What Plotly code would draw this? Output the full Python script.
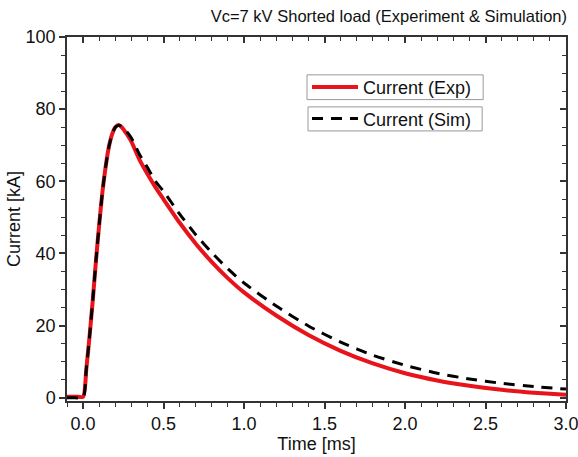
import plotly.graph_objects as go

# Experiment (red, solid)
t_exp = [-0.1, -0.05, 0.0, 0.02, 0.04, 0.06, 0.08, 0.10, 0.12, 0.14, 0.16, 0.18, 0.20, 0.22, 0.24,
         0.27, 0.30, 0.35, 0.40, 0.45, 0.50, 0.60, 0.70, 0.80, 0.90, 1.00, 1.20, 1.40, 1.60, 1.80,
         2.00, 2.20, 2.40, 2.60, 2.80, 3.00]
i_exp = [0.3, 0.3, 0.3, 8, 17, 27, 38, 48, 57, 64, 69.5, 73, 75, 75.6, 75.0,
         73.2, 71, 66, 62, 58.3, 55, 48.5, 42.7, 37.6, 33.1, 29.2, 22.8, 17.4, 13.0, 9.5,
         6.8, 4.8, 3.3, 2.2, 1.4, 0.8]

# Simulation (black, dashed)
t_sim = [-0.1, -0.05, 0.0, 0.02, 0.04, 0.06, 0.08, 0.10, 0.12, 0.14, 0.16, 0.18, 0.20, 0.22, 0.24,
         0.27, 0.30, 0.35, 0.40, 0.45, 0.50, 0.60, 0.70, 0.80, 0.90, 1.00, 1.20, 1.40, 1.60, 1.80,
         2.00, 2.20, 2.40, 2.60, 2.80, 3.00]
i_sim = [0.0, 0.0, 0.0, 8, 17, 27, 38, 48, 57, 64, 69.5, 73, 75, 75.5, 75.2,
         73.8, 72, 67.5, 63.8, 60, 57.2, 50.9, 45.2, 40.2, 35.7, 31.8, 25.4, 19.9, 15.4, 11.8,
         9.0, 6.8, 5.2, 4.0, 3.1, 2.4]

x_ticks = [0.0, 0.5, 1.0, 1.5, 2.0, 2.5, 3.0]
x_ticklabels = ["0.0", "0.5", "1.0", "1.5", "2.0", "2.5", "3.0"]
y_ticks = [0, 20, 40, 60, 80, 100]

FONT = "Liberation Sans, Arial, sans-serif"
AX = "#333333"

fig = go.Figure()
fig.add_trace(go.Scatter(x=t_exp, y=i_exp, mode="lines", name="Current (Exp)",
                         line=dict(color="#e8141c", width=4, shape="spline", smoothing=0.6),
                         legend="legend"))
fig.add_trace(go.Scatter(x=t_sim, y=i_sim, mode="lines", name="Current (Sim)",
                         line=dict(color="black", width=3, dash="11px,8px", shape="spline", smoothing=0.6),
                         legend="legend2"))

xr = [-0.1, 3.0]
yr = [-0.9, 100]

common_x = dict(range=xr, tickvals=x_ticks, ticklen=6, tickwidth=1.5, tickcolor=AX,
                showline=True, linecolor=AX, linewidth=1.5, showgrid=False, zeroline=False,
                automargin=False)
common_y = dict(range=yr, tickvals=y_ticks, ticklen=6, tickwidth=1.5, tickcolor=AX,
                showline=True, linecolor=AX, linewidth=1.5, showgrid=False, zeroline=False,
                automargin=False)

# legend frames (two separate boxes, as in the original)
box_style = dict(type="rect", xref="paper", yref="paper", line=dict(color="#999", width=1),
                 fillcolor="white", layer="above")
shapes = [
    dict(**box_style, x0=0.481, x1=0.834, y0=0.828, y1=0.896),
    dict(**box_style, x0=0.483, x1=0.832, y0=0.742, y1=0.808),
]

fig.update_layout(
    width=578, height=457,
    margin=dict(l=67, r=12, t=37, b=56, autoexpand=False),
    paper_bgcolor="white", plot_bgcolor="white",
    font=dict(family=FONT, size=18, color="#111"),
    title=dict(text="Vc=7 kV Shorted load (Experiment & Simulation)", x=0.981, xanchor="right",
               xref="container", y=0.965, yanchor="middle", yref="container",
               font=dict(size=16.5, family=FONT, color="#111")),
    xaxis=dict(**common_x, ticktext=x_ticklabels, ticks="outside", ticklabeloverflow="allow",
               minor=dict(dtick=0.1, ticks="outside", ticklen=4, tickcolor=AX, tickwidth=1.2, showgrid=False),
               title=dict(text="Time [ms]", standoff=0, font=dict(size=18)), tickfont=dict(size=18)),
    yaxis=dict(**common_y, ticks="outside", ticklabeloverflow="allow",
               minor=dict(dtick=5, tick0=0, ticks="outside", ticklen=4, tickcolor=AX, tickwidth=1.2, showgrid=False),
               title=dict(text="Current [kA]", standoff=0, font=dict(size=18)), tickfont=dict(size=18)),
    xaxis2=dict(**common_x, overlaying="x", side="top", anchor="y", ticks="inside",
                showticklabels=False,
                minor=dict(dtick=0.1, ticks="inside", ticklen=4, tickcolor=AX, tickwidth=1.2, showgrid=False)),
    yaxis2=dict(**common_y, overlaying="y", side="right", anchor="x", ticks="inside",
                showticklabels=False,
                minor=dict(dtick=5, tick0=0, ticks="inside", ticklen=4, tickcolor=AX, tickwidth=1.2, showgrid=False)),
    legend=dict(x=0.481, y=0.862, xanchor="left", yanchor="middle", bgcolor="rgba(0,0,0,0)",
                borderwidth=0, font=dict(size=18, family=FONT), itemwidth=46),
    legend2=dict(x=0.481, y=0.775, xanchor="left", yanchor="middle", bgcolor="rgba(0,0,0,0)",
                 borderwidth=0, font=dict(size=18, family=FONT), itemwidth=46),
    showlegend=True,
    shapes=shapes,
)
# empty trace so the mirrored axes are drawn
fig.add_trace(go.Scatter(x=[], y=[], xaxis="x2", yaxis="y2", showlegend=False, hoverinfo="skip"))

fig.write_html("out.html", config={"displayModeBar": False},
               post_script="document.body.style.margin='0';document.body.style.overflow='hidden';")
